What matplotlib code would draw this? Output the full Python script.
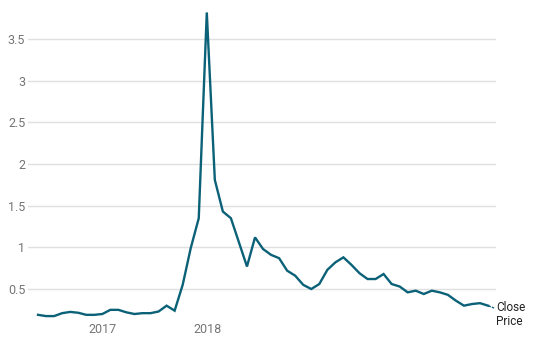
import numpy as np
import pandas as pd
import matplotlib
matplotlib.use("Agg")
import matplotlib.pyplot as plt
import matplotlib.dates as mdates

# 4-weekly close prices
dates = pd.date_range("2016-05-22", periods=57, freq="28D")
close_price = [
    0.19, 0.175, 0.175, 0.21, 0.225, 0.215, 0.19, 0.19, 0.20, 0.25,
    0.25, 0.22, 0.20, 0.21, 0.21, 0.23, 0.30, 0.24, 0.55, 0.99,
    1.35, 3.82, 1.81, 1.43, 1.35, 1.06, 0.77, 1.12, 0.98, 0.91,
    0.87, 0.72, 0.66, 0.55, 0.50, 0.56, 0.73, 0.82, 0.88, 0.79,
    0.69, 0.62, 0.62, 0.68, 0.56, 0.53, 0.46, 0.48, 0.44, 0.48,
    0.46, 0.43, 0.36, 0.30, 0.32, 0.33, 0.30,
]
y_ticks = [0.5, 1, 1.5, 2, 2.5, 3, 3.5]
y_tick_labels = ["0.5", "1", "1.5", "2", "2.5", "3", "3.5"]
x_ticks = ["2017-01-01", "2018-01-01"]
x_tick_labels = ["2017", "2018"]
series_name = "Close\nPrice"

plt.rcParams["font.family"] = ["Roboto", "DejaVu Sans"]
line_color = "#0b6177"

fig = plt.figure(figsize=(5.54, 3.52), dpi=100)
ax = fig.add_axes([0.0505, 0.0909, 0.845, 0.886])

ax.plot(dates, close_price, color=line_color, lw=1.7, solid_joinstyle="miter")

ax.set_xlim(pd.Timestamp("2016-04-17"), pd.Timestamp("2020-10-04"))
ax.set_ylim(0.128, 3.872)

ax.set_yticks(y_ticks)
ax.set_yticklabels(y_tick_labels)
ax.set_xticks(pd.to_datetime(x_ticks))
ax.set_xticklabels(x_tick_labels)

ax.grid(axis="y", color="#e0e0e0", lw=1)
ax.set_axisbelow(True)
for s in ax.spines.values():
    s.set_visible(False)
ax.tick_params(axis="both", length=0, labelsize=9, labelcolor="#757575")
ax.tick_params(axis="y", pad=2)
ax.tick_params(axis="x", pad=2)

# series label at end of line
ax.annotate(series_name, xy=(dates[-1], close_price[-1]),
            xytext=(6, 3.5), textcoords="offset points",
            ha="left", va="top", fontsize=8.5, color="#222222",
            linespacing=1.15, annotation_clip=False,
            arrowprops=dict(arrowstyle="-", color=line_color, lw=1,
                            linestyle=(0, (1, 1.5)), shrinkA=0, shrinkB=0))

fig.savefig("out.png", dpi=100)
